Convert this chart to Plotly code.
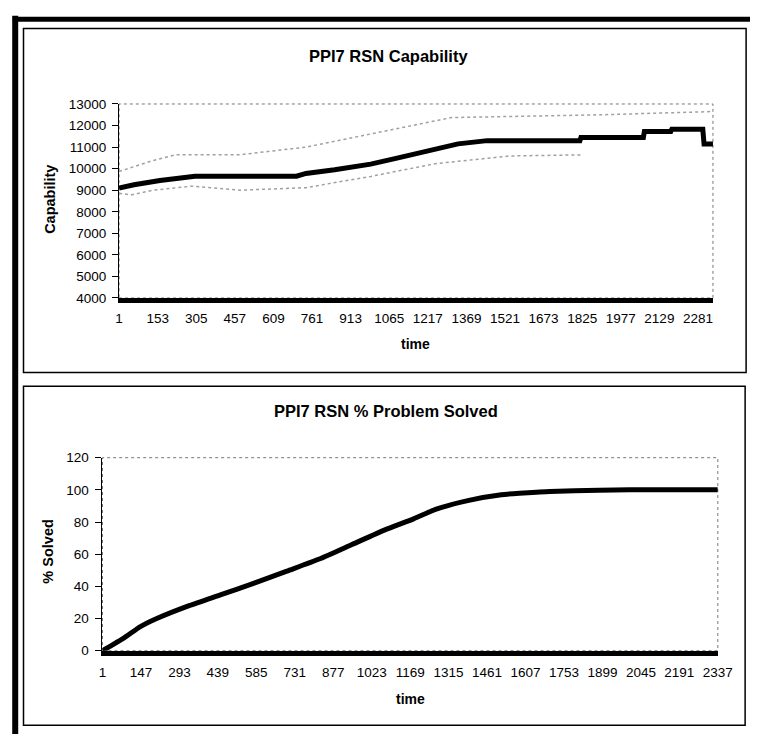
import plotly.graph_objects as go

# ---- Top chart: PPI7 RSN Capability ----
cap_t = [1, 60, 162, 250, 300, 700, 737, 850, 992, 1100, 1246, 1336, 1451, 1816, 1820, 2066, 2070, 2174, 2178, 2300, 2305, 2340]
cap_v = [9100, 9250, 9450, 9600, 9650, 9650, 9780, 9950, 10210, 10500, 10900, 11150, 11300, 11300, 11450, 11450, 11730, 11730, 11830, 11830, 11150, 11150]

upper_t = [1, 135, 227, 480, 737, 1119, 1310, 1540, 1900, 2340]
upper_v = [9870, 10380, 10650, 10650, 11000, 11900, 12370, 12420, 12500, 12650]

lower_t = [1, 47, 135, 288, 480, 737, 992, 1246, 1540, 1820]
lower_v = [8860, 8780, 9000, 9190, 9000, 9120, 9640, 10230, 10590, 10640]

top_xticks = [1, 153, 305, 457, 609, 761, 913, 1065, 1217, 1369, 1521, 1673, 1825, 1977, 2129, 2281]
top_yticks = [4000, 5000, 6000, 7000, 8000, 9000, 10000, 11000, 12000, 13000]

# ---- Bottom chart: PPI7 RSN % Problem Solved ----
sol_t = [1, 83, 145, 207, 330, 454, 577, 701, 824, 948, 1071, 1182, 1268, 1392, 1515, 1600, 1700, 1885, 2000, 2337]
sol_v = [0, 8, 15, 20, 28, 35, 42, 49.5, 57, 66, 75, 82, 88, 93.5, 97, 98, 99, 99.8, 100, 100]

bot_xticks = [1, 147, 293, 439, 585, 731, 877, 1023, 1169, 1315, 1461, 1607, 1753, 1899, 2045, 2191, 2337]
bot_yticks = [0, 20, 40, 60, 80, 100, 120]

W, H = 765, 742
def px(x):
    return x / W
def py(y):
    return 1 - y / H

FONT = "Liberation Sans, Arial, sans-serif"

fig = go.Figure()
fig.add_trace(go.Scatter(x=upper_t, y=upper_v, mode="lines", xaxis="x", yaxis="y",
                         line=dict(color="#a0a0a0", width=1.5, dash="dot"), showlegend=False))
fig.add_trace(go.Scatter(x=lower_t, y=lower_v, mode="lines", xaxis="x", yaxis="y",
                         line=dict(color="#a0a0a0", width=1.5, dash="dot"), showlegend=False))
fig.add_trace(go.Scatter(x=cap_t, y=cap_v, mode="lines", xaxis="x", yaxis="y",
                         line=dict(color="black", width=5), showlegend=False))
fig.add_trace(go.Scatter(x=sol_t, y=sol_v, mode="lines", xaxis="x2", yaxis="y2",
                         line=dict(color="black", width=5, shape="spline", smoothing=0.6), showlegend=False))

tickfont = dict(family=FONT, size=13.5, color="black")

fig.update_layout(
    width=W, height=H,
    margin=dict(l=0, r=0, t=0, b=0, pad=0),
    paper_bgcolor="white", plot_bgcolor="white",
    xaxis=dict(domain=[px(118), px(727)], anchor="y", range=[1, 2340],
               tickvals=top_xticks, ticktext=[str(v) for v in top_xticks],
               showgrid=False, zeroline=False, showline=True, linecolor="black", linewidth=5,
               ticks="", tickfont=tickfont, ticklabelstandoff=4),
    yaxis=dict(domain=[py(297), py(99)], anchor="x", range=[4000, 13000],
               tickvals=top_yticks, ticktext=[str(v) for v in top_yticks],
               showgrid=False, zeroline=False,
               showline=True, linecolor="black", linewidth=1,
               ticks="outside", ticklen=6, tickcolor="black", tickfont=tickfont, ticklabelstandoff=3),
    xaxis2=dict(domain=[px(101), px(732)], anchor="y2", range=[1, 2337],
                tickvals=bot_xticks, ticktext=[str(v) for v in bot_xticks],
                showgrid=False, zeroline=False, showline=True, linecolor="black", linewidth=5,
                ticks="", tickfont=tickfont, ticklabelstandoff=5),
    yaxis2=dict(domain=[py(657), py(460)], anchor="x2", range=[0, 120],
                tickvals=bot_yticks, ticktext=[str(v) for v in bot_yticks],
                showgrid=False, zeroline=False,
                showline=True, linecolor="black", linewidth=1,
                ticks="outside", ticklen=6, tickcolor="black", tickfont=tickfont, ticklabelstandoff=4),
)

shapes = []
# outer thick frame lines
shapes.append(dict(type="line", xref="paper", yref="paper", x0=px(11.5), x1=px(11.5), y0=py(9), y1=py(742),
                   line=dict(color="black", width=6)))
shapes.append(dict(type="line", xref="paper", yref="paper", x0=px(9), x1=px(765), y0=py(12.5), y1=py(12.5),
                   line=dict(color="black", width=5)))
# panel borders
shapes.append(dict(type="rect", xref="paper", yref="paper", x0=px(20), x1=px(761), y0=py(22), y1=py(373),
                   line=dict(color="black", width=1.5)))
shapes.append(dict(type="rect", xref="paper", yref="paper", x0=px(20), x1=px(760), y0=py(387), y1=py(733),
                   line=dict(color="black", width=1.5)))
# plot area borders (gray dotted)
shapes.append(dict(type="rect", xref="paper", yref="paper", x0=px(118), x1=px(727), y0=py(297), y1=py(99),
                   line=dict(color="#777777", width=1, dash="dot"), layer="below"))
shapes.append(dict(type="rect", xref="paper", yref="paper", x0=px(101), x1=px(732), y0=py(657), y1=py(460),
                   line=dict(color="#777777", width=1, dash="dot"), layer="below"))
fig.update_layout(shapes=shapes)

def lab(text, x, y, size, angle=0):
    return dict(text=text, x=px(x), y=py(y), xref="paper", yref="paper", xanchor="center", yanchor="middle",
                textangle=angle, showarrow=False, font=dict(family=FONT, size=size, color="black"))

ann = [
    lab("<b>PPI7 RSN Capability</b>", 394, 50, 16.5),
    lab("<b>PPI7 RSN % Problem Solved</b>", 392, 412, 16.5),
    lab("<b>Capability</b>", 47, 196, 14.5, -90),
    lab("<b>% Solved</b>", 45, 556, 14.5, -90),
    lab("<b>time</b>", 422, 344, 14),
    lab("<b>time</b>", 417, 706, 14),
]
fig.update_layout(annotations=ann)

ps = ("document.body.style.margin='0';"
      "document.documentElement.style.overflow='hidden';"
      "document.body.style.overflow='hidden';")
fig.write_html("out.html", post_script=ps, config={"displayModeBar": False})
